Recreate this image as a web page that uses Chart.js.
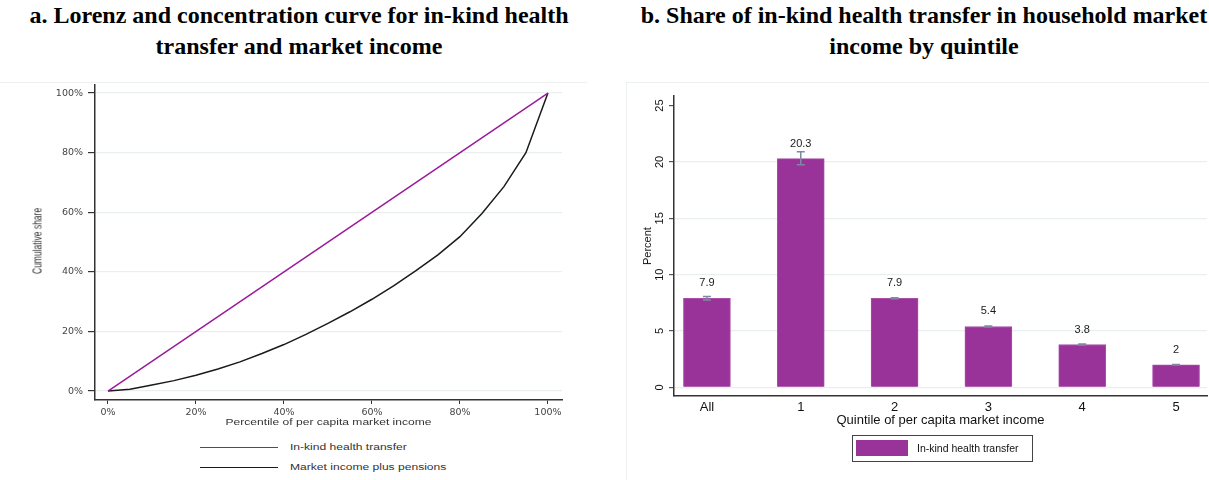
<!DOCTYPE html>
<html>
<head>
<meta charset="utf-8">
<script src="https://cdn.jsdelivr.net/npm/chart.js@4/dist/chart.umd.min.js"></script>
<style>
  body { margin: 0; width: 1209px; height: 480px; background: #fff; position: relative; overflow: hidden; font-family: "Liberation Sans", Arial, sans-serif; color: #222; }
  .abs { position: absolute; }
  .title { font-family: "Liberation Serif", "Times New Roman", serif; font-weight: bold; font-size: 24px; line-height: 31px; text-align: center; color: #000; white-space: nowrap; }
  .wide { display: inline-block; transform: scaleX(1.42); white-space: nowrap; }
  .small { font-size: 8.5px; line-height: 12px; color: #333; }
</style>
</head>
<body>

<!-- panel frames -->
<div class="abs" style="left:0;top:82px;width:587px;height:1px;background:#eef1f1"></div>
<div class="abs" style="left:626px;top:82px;width:583px;height:397px;border:1px solid #eef1f1;border-right:none"></div>

<canvas id="lorenz" class="abs" style="left:0;top:70px" width="600" height="355"></canvas>
<canvas id="shares" class="abs" style="left:610px;top:80px" width="599" height="400"></canvas>

<div class="abs title" style="left:0;top:0;width:598px">a. Lorenz and concentration curve for in-kind health<br>transfer and market income</div>
<div class="abs title" style="left:624px;top:0;width:600px">b. Share of in-kind health transfer in household market<br>income by quintile</div>

<!-- left panel axis titles and legend -->
<div class="abs small" style="left:37px;top:241px;transform:translate(-50%,-50%) rotate(-90deg) scaleY(1.42);white-space:nowrap">Cumulative share</div>
<div class="abs small" style="left:0;width:657px;top:416px;text-align:center"><span class="wide" style="transform-origin:center">Percentile of per capita market income</span></div>
<div class="abs" style="left:200px;top:446.5px;width:78px;height:1.5px;background:#9a1a9a"></div>
<div class="abs" style="left:200px;top:466.5px;width:78px;height:1.5px;background:#1a1a1a"></div>
<div class="abs small" style="left:290px;top:441px"><span class="wide" style="transform-origin:left center">In-kind health transfer</span></div>
<div class="abs small" style="left:290px;top:461px"><span class="wide" style="transform-origin:left center">Market income plus pensions</span></div>

<!-- right panel axis titles and legend -->
<div class="abs" style="left:647px;top:246px;transform:translate(-50%,-50%) rotate(-90deg);font-size:11px;white-space:nowrap;color:#111">Percent</div>
<div class="abs" style="left:674px;width:533px;top:412px;text-align:center;font-size:13px;line-height:16px;color:#111">Quintile of per capita market income</div>
<div class="abs" style="left:852px;top:435px;width:179px;height:25px;border:1px solid #444"></div>
<div class="abs" style="left:856px;top:440px;width:52px;height:16px;background:#993399"></div>
<div class="abs" style="left:917px;top:441px;font-size:10.5px;line-height:14px;color:#111">In-kind health transfer</div>

<script>
// cumulative population share (percentile of per capita market income)
const percentiles = [0, 5, 10, 15, 20, 25, 30, 35, 40, 45, 50, 55, 60, 65, 70, 75, 80, 85, 90, 95, 100];
const marketIncomeShare = [0, 0.6, 2, 3.5, 5.3, 7.4, 9.8, 12.6, 15.6, 19, 22.7, 26.6, 30.8, 35.4, 40.4, 45.7, 51.8, 59.6, 68.6, 80, 100];
// concentration curve of the health transfer
const healthPercentiles = [0, 100];
const healthShare = [0, 100];
const lorenzTicks = [0, 20, 40, 60, 80, 100];

// share of health transfer in market income by quintile
const quintiles = ['All', '1', '2', '3', '4', '5'];
const shares = [7.9, 20.3, 7.9, 5.4, 3.8, 2];
const ciLow = [7.75, 19.75, 7.85, 5.35, 3.76, 1.97];
const ciHigh = [8.05, 20.9, 7.95, 5.45, 3.84, 2.03];
const shareTicks = [0, 5, 10, 15, 20, 25];

const PURPLE = '#993399';
const GRID = '#e9eeee';
const AXIS = '#333';

function toPoints(xs, ys) {
  return xs.map((x, i) => ({ x, y: ys[i] }));
}

new Chart(document.getElementById('lorenz'), {
  type: 'line',
  data: {
    datasets: [
      {
        label: 'In-kind health transfer',
        data: toPoints(healthPercentiles, healthShare),
        borderColor: '#9a1a9a',
        borderWidth: 1.5,
        pointRadius: 0,
      },
      {
        label: 'Market income plus pensions',
        data: toPoints(percentiles, marketIncomeShare),
        borderColor: '#1a1a1a',
        borderWidth: 1.5,
        pointRadius: 0,
      },
    ],
  },
  options: {
    responsive: false,
    animation: false,
    layout: { padding: { top: 15, right: 38, left: 0, bottom: 0 } },
    plugins: { legend: { display: false }, tooltip: { enabled: false } },
    scales: {
      x: {
        type: 'linear',
        min: -2.95,
        max: 103.2,
        afterBuildTicks: s => { s.ticks = lorenzTicks.map(v => ({ value: v })); },
        afterFit: s => { s.height = 25; },
        grid: { drawOnChartArea: false, tickLength: 4, tickColor: AXIS },
        border: { color: AXIS, width: 1.5 },
        ticks: { callback: v => v + '%', font: { family: 'DejaVu Sans', size: 9.5 }, color: '#444', padding: 3, maxRotation: 0 },
      },
      y: {
        min: -3,
        max: 102.7,
        afterBuildTicks: s => { s.ticks = lorenzTicks.map(v => ({ value: v })); },
        afterFit: s => { s.width = 95; },
        grid: { color: GRID, lineWidth: 1.2, tickLength: 7, tickColor: AXIS },
        border: { color: AXIS, width: 1.5 },
        ticks: { callback: v => v + '%', font: { family: 'DejaVu Sans', size: 9.5 }, color: '#444', padding: 5 },
      },
    },
  },
});

// error bars and value labels on top of the bars
const barExtras = {
  id: 'barExtras',
  afterDatasetsDraw(chart) {
    const { ctx } = chart;
    const y = chart.scales.y;
    const meta = chart.getDatasetMeta(0);
    ctx.save();
    meta.data.forEach((bar, i) => {
      const top = y.getPixelForValue(ciHigh[i]);
      const bot = y.getPixelForValue(ciLow[i]);
      ctx.strokeStyle = '#7d8aa0';
      ctx.lineWidth = 1.5;
      ctx.beginPath();
      ctx.moveTo(bar.x, top); ctx.lineTo(bar.x, bot);
      ctx.moveTo(bar.x - 4, top); ctx.lineTo(bar.x + 4, top);
      ctx.moveTo(bar.x - 4, bot); ctx.lineTo(bar.x + 4, bot);
      ctx.stroke();

      ctx.fillStyle = '#1a1a1a';
      ctx.font = '11px "Liberation Sans", Arial, sans-serif';
      ctx.textAlign = 'center';
      ctx.textBaseline = 'middle';
      ctx.fillText(String(shares[i]), bar.x, bar.y - 15);
    });
    ctx.restore();
  },
};

new Chart(document.getElementById('shares'), {
  type: 'bar',
  data: {
    datasets: [{
      label: 'In-kind health transfer',
      data: toPoints(quintiles.map((_, i) => i), shares),
      backgroundColor: PURPLE,
      borderColor: '#a94fa9',
      borderWidth: 1,
      barThickness: 47,
    }],
  },
  options: {
    responsive: false,
    animation: false,
    layout: { padding: { top: 16, right: 2, left: 0, bottom: 0 } },
    plugins: { legend: { display: false }, tooltip: { enabled: false } },
    scales: {
      x: {
        type: 'linear',
        offset: false,
        min: -0.351,
        max: 5.33,
        afterBuildTicks: s => { s.ticks = quintiles.map((_, i) => ({ value: i })); },
        afterFit: s => { s.height = 84; },
        grid: { drawOnChartArea: false, drawTicks: false },
        border: { color: AXIS, width: 1.5 },
        ticks: { callback: v => quintiles[v], font: { family: 'Liberation Sans', size: 13 }, color: '#111', padding: 4, maxRotation: 0 },
      },
      y: {
        min: -0.77,
        max: 25.85,
        afterBuildTicks: s => { s.ticks = shareTicks.map(v => ({ value: v })); },
        afterFit: s => { s.width = 64; },
        grid: { color: c => (c.tick && c.tick.value === 25 ? 'rgba(0,0,0,0)' : GRID), lineWidth: 1.2, tickLength: 5, tickColor: '#555' },
        border: { color: AXIS, width: 1.5 },
        ticks: { font: { family: 'Liberation Sans', size: 11 }, color: '#111', padding: 3, minRotation: 90, maxRotation: 90, crossAlign: 'center' },
      },
    },
  },
  plugins: [barExtras],
});
</script>
</body>
</html>
